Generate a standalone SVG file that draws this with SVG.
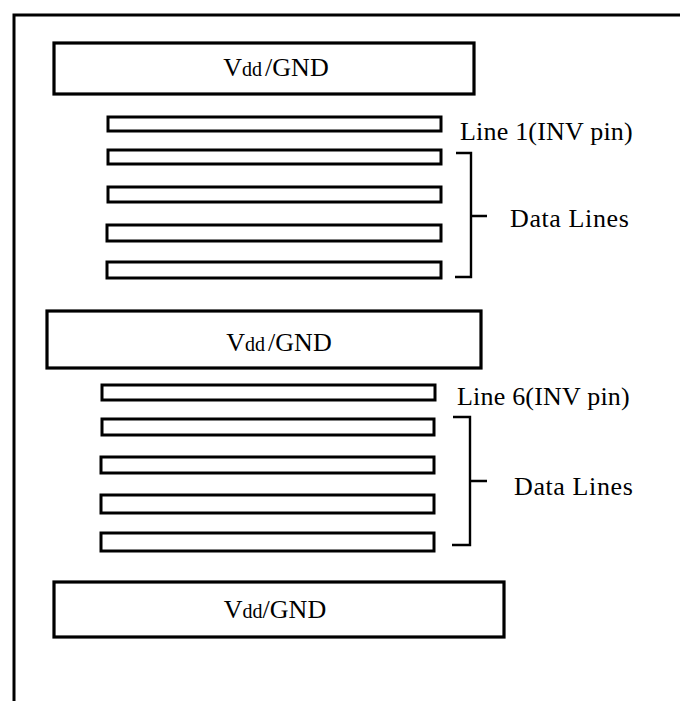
<svg xmlns="http://www.w3.org/2000/svg" width="680" height="701" viewBox="0 0 680 701">
  <style>
    .frame { fill: none; stroke: #000; stroke-width: 3; }
    .rail { fill: #fff; stroke: #000; stroke-width: 3.2; }
    .bar { fill: #fff; stroke: #000; stroke-width: 3; }
    .brace { fill: none; stroke: #000; stroke-width: 2.4; }
    .lbl { font-family: "Liberation Serif", "Times New Roman", serif; font-size: 26px; fill: #000; }
    .sub { font-size: 20px; }
  </style>
  <rect width="680" height="701" fill="#fff"/>

  <!-- outer frame: top and left edges only -->
  <path class="frame" d="M14,701 V15 H680"/>

  <!-- upper supply rail -->
  <g id="rail-top">
    <rect class="rail" x="54" y="43" width="420" height="51"/>
    <text class="lbl" x="276" y="76" text-anchor="middle">V<tspan class="sub">dd</tspan><tspan dx="3">/GND</tspan></text>
  </g>

  <!-- first bus -->
  <g id="line-1">
    <rect class="bar" x="108" y="117" width="333" height="14"/>
    <text class="lbl" x="460" y="140" letter-spacing="0.2">Line 1(INV pin)</text>
  </g>
  <g id="data-1a"><rect class="bar" x="108" y="150" width="333" height="14"/></g>
  <g id="data-1b"><rect class="bar" x="108" y="187" width="333" height="15"/></g>
  <g id="data-1c"><rect class="bar" x="107" y="225" width="334" height="16"/></g>
  <g id="data-1d"><rect class="bar" x="107" y="262" width="334" height="16"/></g>

  <!-- middle supply rail -->
  <g id="rail-mid">
    <rect class="rail" x="47" y="311" width="434" height="57"/>
    <text class="lbl" x="279" y="351" text-anchor="middle">V<tspan class="sub">dd</tspan><tspan dx="3">/GND</tspan></text>
  </g>

  <!-- second bus -->
  <g id="line-6">
    <rect class="bar" x="102" y="385" width="333" height="15"/>
    <text class="lbl" x="457" y="405" letter-spacing="0.2">Line 6(INV pin)</text>
  </g>
  <g id="data-2a"><rect class="bar" x="102" y="419" width="332" height="16"/></g>
  <g id="data-2b"><rect class="bar" x="101" y="457" width="333" height="16"/></g>
  <g id="data-2c"><rect class="bar" x="101" y="495" width="333" height="18"/></g>
  <g id="data-2d"><rect class="bar" x="101" y="533" width="333" height="18"/></g>

  <!-- lower supply rail -->
  <g id="rail-bottom">
    <rect class="rail" x="54" y="582" width="450" height="55"/>
    <text class="lbl" x="275" y="618" text-anchor="middle">V<tspan class="sub">dd</tspan>/GND</text>
  </g>

  <!-- braces grouping the data lines -->
  <g id="connectors">
    <path class="brace" d="M456,153 H471 V277 H455 M471,216 H487"/>
    <path class="brace" d="M453,417 H470 V545 H452 M470,481 H487"/>
  </g>

  <g id="brace-labels">
    <text class="lbl" x="510" y="227" letter-spacing="0.6">Data Lines</text>
    <text class="lbl" x="514" y="495" letter-spacing="0.6">Data Lines</text>
  </g>
</svg>
